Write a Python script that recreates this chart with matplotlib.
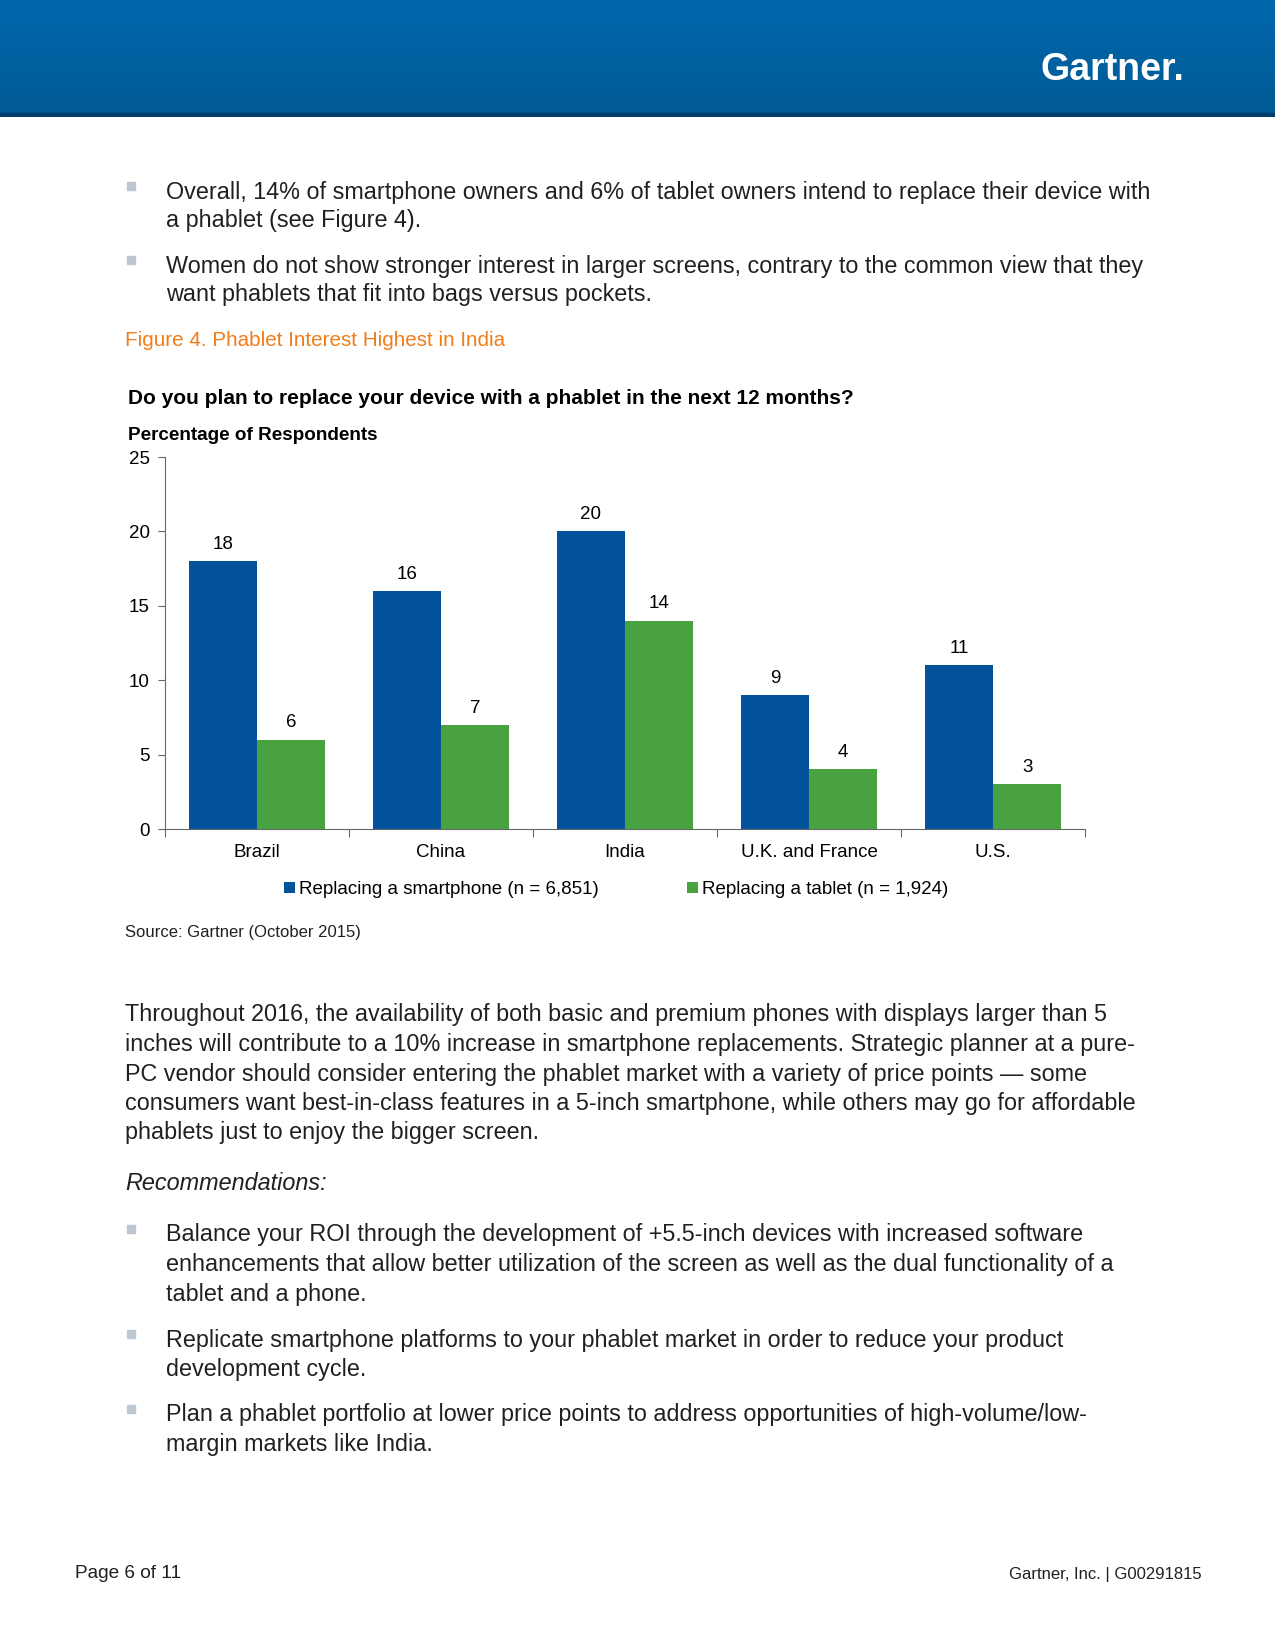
import numpy as np
import matplotlib
matplotlib.use('Agg')
import matplotlib.pyplot as plt
from matplotlib.patches import Rectangle

# Datos del gráfico
categories = ['Brazil', 'China', 'India', 'U.K. and France', 'U.S.']
smartphone = [18, 16, 20, 9, 11]
tablet = [6, 7, 14, 4, 3]
series_labels = ['Replacing a smartphone (n = 6,851)', 'Replacing a tablet (n = 1,924)']
y_ticks = [0, 5, 10, 15, 20, 25]

W, H = 1275, 1650
BODY = ['Liberation Sans', 'DejaVu Sans']
NARROW = ['Liberation Sans Narrow', 'Liberation Sans', 'DejaVu Sans']
blue = '#02529C'
green = '#47A23F'
DY = 3  # pequeño ajuste vertical del texto

fig = plt.figure(figsize=(W / 100, H / 100), dpi=100)


def fy(py):
    return 1 - py / H


def fx(px):
    return px / W


def body(px, py, s, **kw):
    kw.setdefault('fontsize', 16.8)
    kw.setdefault('color', '#231F20')
    kw.setdefault('family', BODY)
    fig.text(fx(px), fy(py + DY), s, va='center', ha=kw.pop('ha', 'left'), **kw)


def bullet(py):
    fig.patches.append(Rectangle((fx(127), fy(py + 1)), 8 / W, 8 / H,
                                 transform=fig.transFigure, color='#BCC7D2', zorder=3))


# Cabecera azul con degradado
hdr = fig.add_axes([0, fy(117), 1, 117 / H])
grad = np.linspace(0, 1, 100).reshape(-1, 1)
hdr.imshow(grad, aspect='auto', cmap=matplotlib.colors.LinearSegmentedColormap.from_list(
    'g', ['#0068AD', '#005A95']), extent=[0, 1, 0, 1])
hdr.axhspan(0, 0.035, color='#003F6B')
hdr.set_xlim(0, 1)
hdr.set_ylim(0, 1)
hdr.axis('off')
fig.text(fx(1184), fy(70), 'Gartner.', color='white', fontsize=27, fontweight='bold',
         family=BODY, ha='right', va='center')

# Viñetas superiores
bullet(189)
body(166, 189, 'Overall, 14% of smartphone owners and 6% of tablet owners intend to replace their device with')
body(166, 218, 'a phablet (see Figure 4).')
bullet(263)
body(166, 263, 'Women do not show stronger interest in larger screens, contrary to the common view that they')
body(166, 291, 'want phablets that fit into bags versus pockets.')

body(125, 338, 'Figure 4. Phablet Interest Highest in India', color='#F07D1A', fontsize=14.9)

# Títulos del gráfico
body(128, 395, 'Do you plan to replace your device with a phablet in the next 12 months?',
     fontsize=15, fontweight='bold', color='black')
body(128, 433, 'Percentage of Respondents', fontsize=13.6, fontweight='bold', color='black',
     family=NARROW)

# Gráfico de barras
ax = fig.add_axes([fx(165), fy(829), (1085 - 165) / W, (829 - 457) / H])
x = np.arange(len(categories))
bw = 0.37
b1 = ax.bar(x - bw / 2, smartphone, bw, color=blue, label=series_labels[0])
b2 = ax.bar(x + bw / 2, tablet, bw, color=green, label=series_labels[1])
for bars in (b1, b2):
    for r in bars:
        ax.annotate(f'{int(r.get_height())}', (r.get_x() + r.get_width() / 2, r.get_height()),
                    xytext=(0, 6), textcoords='offset points', ha='center', va='bottom',
                    fontsize=13.5, family=NARROW)

ax.set_ylim(0, 25)
ax.set_xlim(-0.5, len(categories) - 0.5)
ax.set_yticks(y_ticks)
ax.set_xticks(x)
ax.set_xticklabels(categories)
ax.set_xticks(np.arange(-0.5, len(categories)), minor=True)
ax.tick_params(axis='x', which='major', length=0, pad=11)
ax.tick_params(axis='x', which='minor', length=6, width=0.8, color='#666666')
ax.tick_params(axis='y', length=5, width=0.8, color='#666666', pad=6)
for lab in ax.get_xticklabels() + ax.get_yticklabels():
    lab.set_family(NARROW)
    lab.set_fontsize(13.5)
for s in ['top', 'right']:
    ax.spines[s].set_visible(False)
for s in ['left', 'bottom']:
    ax.spines[s].set_color('#666666')
    ax.spines[s].set_linewidth(0.8)

leg = ax.legend(loc='center', bbox_to_anchor=(0.49, -0.163), ncol=2, frameon=False,
                handlelength=0.6, handleheight=0.6, handletextpad=0.2, columnspacing=4.7,
                prop={'family': NARROW, 'size': 13.5})

body(125, 929, 'Source: Gartner (October 2015)', fontsize=12)

# Párrafo
para = [
    'Throughout 2016, the availability of both basic and premium phones with displays larger than 5',
    'inches will contribute to a 10% increase in smartphone replacements. Strategic planner at a pure-',
    'PC vendor should consider entering the phablet market with a variety of price points \u2014 some',
    'consumers want best-in-class features in a 5-inch smartphone, while others may go for affordable',
    'phablets just to enjoy the bigger screen.',
]
for i, line in enumerate(para):
    body(125, 1012 + i * 29.5, line)

body(125, 1180, 'Recommendations:', style='italic')

recs = [
    ['Balance your ROI through the development of +5.5-inch devices with increased software',
     'enhancements that allow better utilization of the screen as well as the dual functionality of a',
     'tablet and a phone.'],
    ['Replicate smartphone platforms to your phablet market in order to reduce your product',
     'development cycle.'],
    ['Plan a phablet portfolio at lower price points to address opportunities of high-volume/low-',
     'margin markets like India.'],
]
starts = [1232, 1337, 1412]
for y0, lines in zip(starts, recs):
    bullet(y0)
    for i, line in enumerate(lines):
        body(166, y0 + i * 29.5, line)

# Pie de página
body(75, 1571, 'Page 6 of 11', fontsize=13.7)
body(1202, 1571, 'Gartner, Inc. | G00291815', fontsize=12, ha='right')

plt.savefig('out.png', dpi=100)
